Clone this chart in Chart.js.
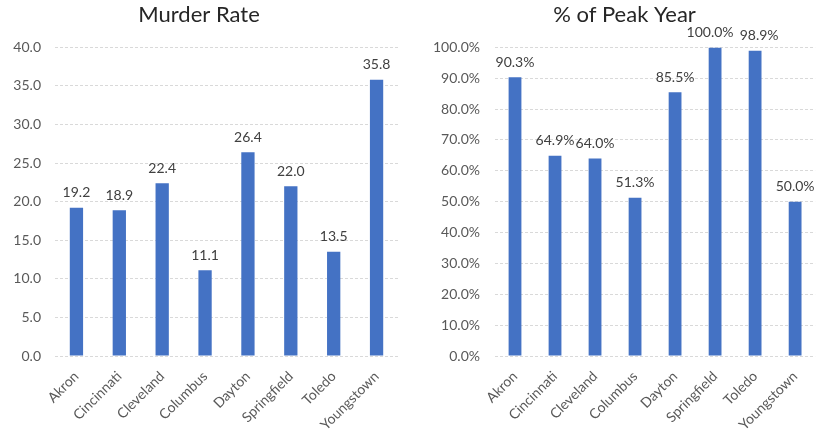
<!DOCTYPE html>
<html>
<head>
<meta charset="utf-8">
<script src="https://cdn.jsdelivr.net/npm/chart.js@4"></script>
<style>
  html, body { margin:0; padding:0; background:#fff; }
  #wrap { position:relative; width:819px; height:436px; overflow:hidden; }
  #c1 { position:absolute; left:0; top:0; }
  #c2 { position:absolute; left:430px; top:0; }
</style>
</head>
<body>
<div id="wrap">
  <canvas id="c1" width="410" height="436"></canvas>
  <canvas id="c2" width="389" height="436"></canvas>
</div>
<script>
// ===== DATA =====
const cities      = ['Akron','Cincinnati','Cleveland','Columbus','Dayton','Springfield','Toledo','Youngstown'];
const murderRate  = [19.2, 18.9, 22.4, 11.1, 26.4, 22.0, 13.5, 35.8];
const pctOfPeak   = [90.3, 64.9, 64.0, 51.3, 85.5, 100.0, 98.9, 50.0];

// ===== STYLE =====
const FONT = 'Lato, "Open Sans", "Liberation Sans", sans-serif';
const BAR  = '#4472c4';
const TXT  = '#595959';
const GRID = '#d9d9d9';

// value labels above bars (nudge: index -> x shift, for crowded neighbours)
const barLabels = {
  id:'barLabels',
  afterDatasetsDraw(chart, args, opts){
    const ctx = chart.ctx;
    const meta = chart.getDatasetMeta(0);
    const nudge = opts.nudge || {};
    ctx.save();
    ctx.font = `14px ${FONT}`;
    ctx.fillStyle = '#404040';
    ctx.textAlign = 'center';
    ctx.textBaseline = 'bottom';
    meta.data.forEach((bar, i)=>{
      const v = chart.data.datasets[0].data[i];
      ctx.fillText(opts.fmt(v), bar.x + (nudge[i] || 0), bar.y - 8);
    });
    ctx.restore();
  }
};

function makeChart(id, values, opts){
  return new Chart(document.getElementById(id), {
    type:'bar',
    data:{ labels:cities, datasets:[{ data:values, backgroundColor:BAR, borderWidth:0,
      categoryPercentage:1, barPercentage:opts.barPct }]},
    plugins:[barLabels],
    options:{
      responsive:false, animation:false, devicePixelRatio:1,
      layout:{ padding:{ left:0, right:opts.padRight, top:0, bottom:0 } },
      plugins:{
        legend:{display:false}, tooltip:{enabled:false},
        title:{ display:true, text:opts.title, color:'#262626',
          font:{family:FONT, size:22, weight:'normal'}, padding:{top:2, bottom:19} },
        barLabels:{ fmt:opts.labelFmt, nudge:opts.nudge }
      },
      scales:{
        x:{
          grid:{display:false, drawTicks:false}, border:{display:false},
          ticks:{ color:TXT, font:{family:FONT, size:14}, maxRotation:45, minRotation:45, padding:12 },
          afterFit: s => { s.height = 80; }
        },
        y:{
          min:0, max:opts.max,
          grid:{ color:GRID, drawTicks:false }, border:{display:false, dash:[3,2]},
          ticks:{ stepSize:opts.step, color:TXT, font:{family:FONT, size:14}, padding:opts.tickPad,
            callback:opts.tickFmt },
          afterFit: s => { s.width = opts.yWidth; }
        }
      }
    }
  });
}

makeChart('c1', murderRate, {
  title:'Murder Rate', max:40, step:5, yWidth:55, padRight:12, tickPad:14, barPct:0.31,
  tickFmt: v => v.toFixed(1), labelFmt: v => v.toFixed(1)
});
makeChart('c2', pctOfPeak, {
  title:'% of Peak Year', max:100, step:10, yWidth:65, padRight:0, tickPad:15, barPct:0.32,
  tickFmt: v => v.toFixed(1) + '%', labelFmt: v => v.toFixed(1) + '%',
  nudge:{5:-5, 6:4}
});
</script>
</body>
</html>
